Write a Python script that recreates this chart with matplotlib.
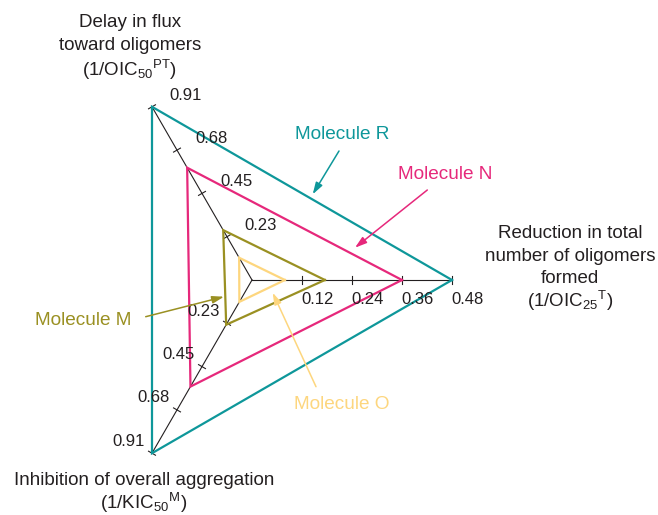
import numpy as np
import matplotlib
matplotlib.use('Agg')
import matplotlib.pyplot as plt

plt.rcParams['font.family'] = ['Liberation Sans', 'DejaVu Sans']
plt.rcParams['mathtext.fontset'] = 'custom'
plt.rcParams['mathtext.rm'] = 'Liberation Sans'
plt.rcParams['mathtext.it'] = 'Liberation Sans:italic'
plt.rcParams['mathtext.bf'] = 'Liberation Sans:bold'

# ---- data ----
axis_max = [0.48, 0.91, 0.91]          # right, upper-left, lower-left
axis_angles_deg = [0, 120, 240]
right_ticks = [0.12, 0.24, 0.36, 0.48]
right_tick_labels = ['0.12', '0.24', '0.36', '0.48']
left_ticks = [0.2275, 0.455, 0.6825, 0.91]
left_tick_labels = ['0.23', '0.45', '0.68', '0.91']

molecules = ['Molecule R', 'Molecule N', 'Molecule M', 'Molecule O']
mol_R = [0.48, 0.91, 0.91]
mol_N = [0.36, 0.59, 0.56]
mol_M = [0.175, 0.262, 0.235]
mol_O = [0.079, 0.117, 0.115]
series = [mol_R, mol_N, mol_M, mol_O]
colors = ['#0E979A', '#E6287B', '#9A9022', '#FDD67E']
text_color = '#231F20'

# ---- geometry helpers ----
PX = 200.0  # pixels per full axis length
def P(px, py):
    return ((px - 252) / PX, (280 - py) / PX)

def to_xy(values):
    xs, ys = [], []
    for v, m, a in zip(values, axis_max, axis_angles_deg):
        r = v / m
        t = np.deg2rad(a)
        xs.append(r * np.cos(t))
        ys.append(r * np.sin(t))
    return xs, ys

fig = plt.figure(figsize=(6.58, 5.15), dpi=100)
ax = fig.add_axes([0, 0, 1, 1])
ax.set_xlim(-252 / PX, 406 / PX)
ax.set_ylim(-235 / PX, 280 / PX)
ax.axis('off')

# axes lines and ticks
tick_half = 4 / PX
for i, (m, a) in enumerate(zip(axis_max, axis_angles_deg)):
    t = np.deg2rad(a)
    ux, uy = np.cos(t), np.sin(t)
    px_, py_ = -uy, ux
    ax.plot([0, ux], [0, uy], color=text_color, lw=0.8, zorder=1)
    ticks = right_ticks if i == 0 else left_ticks
    labels = right_tick_labels if i == 0 else left_tick_labels
    for tv, tl in zip(ticks, labels):
        r = tv / m
        cx, cy = r * ux, r * uy
        ax.plot([cx - tick_half * px_, cx + tick_half * px_],
                [cy - tick_half * py_, cy + tick_half * py_],
                color=text_color, lw=0.8, zorder=1)
        if i == 0:
            off = (16 / PX, -19 / PX)
        elif i == 1:
            off = (34 / PX, 11.5 / PX)
        else:
            off = (-23.5 / PX, 12 / PX)
        ax.text(cx + off[0], cy + off[1], tl, fontsize=12, color=text_color,
                ha='center', va='center')

# polygons
for vals, c in zip(series, colors):
    xs, ys = to_xy(vals)
    ax.plot(xs + [xs[0]], ys + [ys[0]], color=c, lw=1.6,
            solid_joinstyle='miter', zorder=2)

# molecule labels + arrows
label_pos = [(341.7, 134.3), (445, 174.3), (83.3, 320.7), (341.7, 404.3)]
arrow_tail = [(339, 151), (427.3, 190), (145.7, 316.7), (316, 386.7)]
arrow_head = [(312.7, 194.3), (355, 247.7), (224, 296.7), (272.7, 292.7)]
for name, c, lp, at, ah in zip(molecules, colors, label_pos, arrow_tail, arrow_head):
    ax.text(*P(*lp), name, fontsize=13.7, color=c, ha='center', va='center')
    ax.annotate('', xy=P(*ah), xytext=P(*at),
                arrowprops=dict(arrowstyle='-|>,head_length=0.7,head_width=0.22',
                                color=c, lw=1.1, shrinkA=0, shrinkB=0), zorder=3)

# axis titles
fs = 13.5
top_lines = ['Delay in flux', 'toward oligomers', r'(1/OIC$_{50}$$^{\mathrm{PT}}$)']
for j, s in enumerate(top_lines):
    ax.text(*P(130, 22.5 + 23.5 * j), s, fontsize=fs, color=text_color,
            ha='center', va='center')
right_lines = ['Reduction in total', 'number of oligomers', 'formed',
               r'(1/OIC$_{25}$$^{\mathrm{T}}$)']
for j, s in enumerate(right_lines):
    ax.text(*P(570, 233.5 + 22.6 * j), s, fontsize=fs, color=text_color,
            ha='center', va='center')
bottom_lines = ['Inhibition of overall aggregation', r'(1/KIC$_{50}$$^{\mathrm{M}}$)']
for j, s in enumerate(bottom_lines):
    ax.text(*P(144, 480.7 + 22.5 * j), s, fontsize=fs, color=text_color,
            ha='center', va='center')

fig.savefig('out.png', dpi=100)
